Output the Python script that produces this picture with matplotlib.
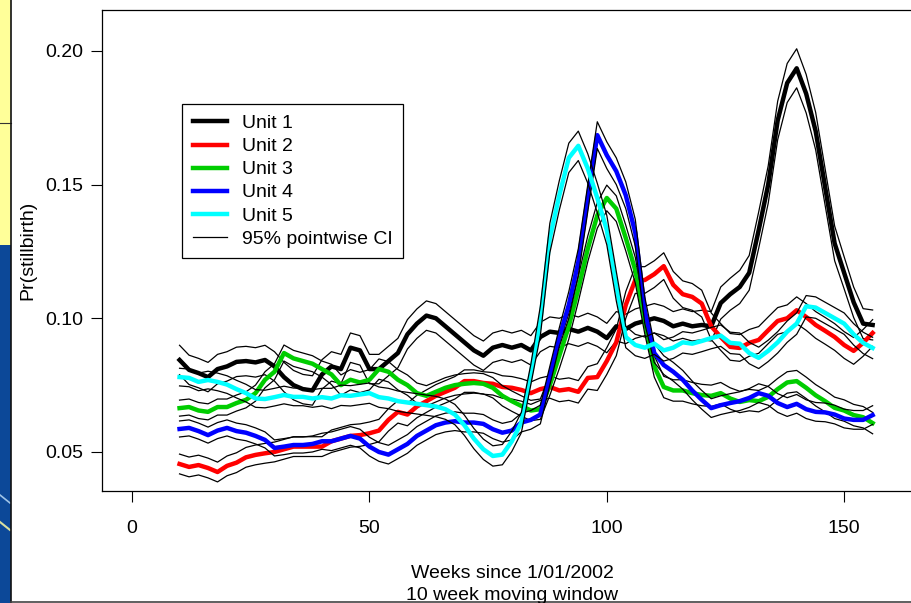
import matplotlib
matplotlib.use("Agg")
import matplotlib.pyplot as plt
from matplotlib.patches import Rectangle
from matplotlib.lines import Line2D

plt.rcParams['font.family'] = ['Liberation Sans', 'DejaVu Sans']

weeks = list(range(10, 157, 2))

unit1 = [0.0844, 0.0807, 0.0795, 0.0780, 0.0810, 0.0820, 0.0837, 0.0840, 0.0835, 0.0844,
         0.0820, 0.0780, 0.0750, 0.0735, 0.0730, 0.0790, 0.0820, 0.0810, 0.0890, 0.0880,
         0.0810, 0.0810, 0.0840, 0.0870, 0.0940, 0.0980, 0.1010, 0.1000, 0.0970, 0.0940,
         0.0910, 0.0880, 0.0860, 0.0890, 0.0900, 0.0890, 0.0900, 0.0880, 0.0930, 0.0950,
         0.0945, 0.0960, 0.0950, 0.0964, 0.0950, 0.0926, 0.0970, 0.0960, 0.0980, 0.0990,
         0.1000, 0.0990, 0.0970, 0.0980, 0.0970, 0.0975, 0.0970, 0.1057, 0.1090, 0.1117,
         0.1170, 0.1330, 0.1500, 0.1740, 0.1880, 0.1935, 0.1840, 0.1700, 0.1490, 0.1280,
         0.1170, 0.1060, 0.0980, 0.0975]
unit2 = [0.0455, 0.0444, 0.0451, 0.0440, 0.0425, 0.0448, 0.0460, 0.0480, 0.0489, 0.0495,
         0.0500, 0.0510, 0.0520, 0.0520, 0.0520, 0.0520, 0.0540, 0.0550, 0.0560, 0.0563,
         0.0570, 0.0580, 0.0620, 0.0650, 0.0640, 0.0670, 0.0690, 0.0710, 0.0725, 0.0740,
         0.0765, 0.0765, 0.0758, 0.0755, 0.0743, 0.0740, 0.0732, 0.0720, 0.0735, 0.0743,
         0.0730, 0.0735, 0.0725, 0.0777, 0.0780, 0.0840, 0.0910, 0.1050, 0.1143, 0.1143,
         0.1165, 0.1195, 0.1125, 0.1090, 0.1080, 0.1055, 0.0970, 0.0930, 0.0893, 0.0889,
         0.0908, 0.0919, 0.0955, 0.0990, 0.1000, 0.1030, 0.1005, 0.0975, 0.0953, 0.0930,
         0.0900, 0.0878, 0.0908, 0.0945]
unit3 = [0.0664, 0.0668, 0.0655, 0.0650, 0.0668, 0.0668, 0.0683, 0.0695, 0.0720, 0.0770,
         0.0800, 0.0870, 0.0850, 0.0840, 0.0830, 0.0810, 0.0790, 0.0750, 0.0770, 0.0760,
         0.0770, 0.0810, 0.0800, 0.0770, 0.0750, 0.0720, 0.0710, 0.0725, 0.0740, 0.0750,
         0.0755, 0.0758, 0.0755, 0.0740, 0.0710, 0.0690, 0.0672, 0.0655, 0.0660, 0.0750,
         0.0860, 0.0970, 0.1110, 0.1260, 0.1385, 0.1450, 0.1410, 0.1300, 0.1180, 0.0990,
         0.0820, 0.0743, 0.0730, 0.0730, 0.0720, 0.0713, 0.0710, 0.0720, 0.0700, 0.0687,
         0.0694, 0.0690, 0.0706, 0.0735, 0.0760, 0.0765, 0.0740, 0.0712, 0.0690, 0.0665,
         0.0655, 0.0638, 0.0630, 0.0608]
unit4 = [0.0586, 0.0590, 0.0578, 0.0563, 0.0580, 0.0590, 0.0578, 0.0572, 0.0560, 0.0545,
         0.0515, 0.0520, 0.0526, 0.0526, 0.0530, 0.0540, 0.0540, 0.0550, 0.0560, 0.0550,
         0.0520, 0.0500, 0.0490, 0.0510, 0.0530, 0.0560, 0.0580, 0.0600, 0.0610, 0.0615,
         0.0610, 0.0610, 0.0605, 0.0585, 0.0572, 0.0580, 0.0610, 0.0620, 0.0640, 0.0785,
         0.0930, 0.1050, 0.1210, 0.1450, 0.1685, 0.1610, 0.1550, 0.1460, 0.1320, 0.1030,
         0.0870, 0.0825, 0.0800, 0.0770, 0.0730, 0.0695, 0.0664, 0.0675, 0.0683, 0.0690,
         0.0702, 0.0720, 0.0710, 0.0683, 0.0668, 0.0680, 0.0660, 0.0650, 0.0648, 0.0640,
         0.0625, 0.0620, 0.0620, 0.0638]
unit5 = [0.0780, 0.0777, 0.0762, 0.0769, 0.0762, 0.0752, 0.0735, 0.0720, 0.0700, 0.0698,
         0.0705, 0.0713, 0.0706, 0.0706, 0.0700, 0.0705, 0.0700, 0.0712, 0.0710, 0.0715,
         0.0720, 0.0705, 0.0700, 0.0690, 0.0685, 0.0680, 0.0675, 0.0670, 0.0660, 0.0640,
         0.0600, 0.0550, 0.0510, 0.0485, 0.0490, 0.0540, 0.0610, 0.0790, 0.0990, 0.1300,
         0.1460, 0.1600, 0.1645, 0.1560, 0.1450, 0.1330, 0.1120, 0.0930, 0.0900, 0.0890,
         0.0905, 0.0880, 0.0890, 0.0910, 0.0905, 0.0915, 0.0926, 0.0935, 0.0908, 0.0905,
         0.0870, 0.0852, 0.0878, 0.0910, 0.0950, 0.0980, 0.1045, 0.1040, 0.1020, 0.1000,
         0.0980, 0.0940, 0.0908, 0.0889]

# 95% pointwise CI half-widths
ci1 = [0.0055] * 57 + [0.0060, 0.0060, 0.0062, 0.0065, 0.0068, 0.0070, 0.0072, 0.0073,
                       0.0073, 0.0072, 0.0070, 0.0068, 0.0065, 0.0060, 0.0057, 0.0056, 0.0056]
ci2 = [0.0037] * 16 + [0.0042] * 28 + [0.0050] * 14 + [0.0050] * 16
ci3 = [0.0030] * 16 + [0.0038] * 24 + [0.0048] * 10 + [0.0040] * 24
ci4 = [0.0030] * 16 + [0.0035] * 25 + [0.0050] * 9 + [0.0035] * 24
ci5 = [0.0033] * 16 + [0.0038] * 22 + [0.0055] * 9 + [0.0040] * 27

units = [unit1, unit2, unit3, unit4, unit5]
cis = [ci1, ci2, ci3, ci4, ci5]
labels = ["Unit 1", "Unit 2", "Unit 3", "Unit 4", "Unit 5"]
colors = ["#000000", "#FF0000", "#00CD00", "#0000FF", "#00FFFF"]
xticks = [0, 50, 100, 150]
yticks = [0.05, 0.10, 0.15, 0.20]

FS = 14
W, H = 912, 603
fig = plt.figure(figsize=(W / 100, H / 100), dpi=100)
fig.patch.set_facecolor("white")

# slide remnants on the left edge
fig.patches.append(Rectangle((0, 1 - 245 / H), 11 / W, 245 / H, transform=fig.transFigure,
                             facecolor="#FFFF99", edgecolor="none", zorder=0))
fig.patches.append(Rectangle((0, 0), 11 / W, 1 - 245 / H, transform=fig.transFigure,
                             facecolor="#0C4898", edgecolor="none", zorder=0))
fig.lines.append(Line2D([0, 11 / W], [1 - 123 / H, 1 - 123 / H], transform=fig.transFigure,
                        color="#333333", lw=0.8))
fig.lines.append(Line2D([0, 10 / W], [1 - 495 / H, 1 - 503 / H], transform=fig.transFigure,
                        color="#9FC4E8", lw=1.2))
fig.lines.append(Line2D([0, 10 / W], [1 - 522 / H, 1 - 530 / H], transform=fig.transFigure,
                        color="#D8E0A0", lw=1.5))
fig.lines.append(Line2D([11.5 / W, 11.5 / W], [0, 1], transform=fig.transFigure,
                        color="#111111", lw=1.2))
fig.lines.append(Line2D([11.5 / W, 1], [1.5 / H, 1.5 / H], transform=fig.transFigure,
                        color="#444444", lw=1.2))

ax = fig.add_axes([101.7 / W, (H - 491) / H, (922 - 101.7) / W, (491 - 10) / H])
for vals, ci, col, lab in zip(units, cis, colors, labels):
    lo = [v - c for v, c in zip(vals, ci)]
    hi = [v + c for v, c in zip(vals, ci)]
    ax.plot(weeks, vals, color=col, lw=3.2, label=lab, solid_joinstyle="round")
    ax.plot(weeks, lo, color="black", lw=0.9)
    ax.plot(weeks, hi, color="black", lw=0.9)

ax.set_xlim(-6.4, 166.4)
ax.set_ylim(0.0354, 0.2153)
ax.set_xticks(xticks)
ax.set_xticklabels([str(t) for t in xticks])
ax.set_yticks(yticks)
ax.set_yticklabels([f"{t:.2f}" for t in yticks])
ax.tick_params(axis="both", direction="out", length=8, width=0.8, labelsize=FS, colors="black")
ax.tick_params(axis="x", pad=13)
ax.tick_params(axis="y", pad=5)
for s in ax.spines.values():
    s.set_linewidth(0.9)
    s.set_color("black")

fig.text(28 / W, 1 - 250 / H, "Pr(stillbirth)", rotation=90, ha="center", va="center", fontsize=FS)
fig.text(512 / W, 1 - 578 / H, "Weeks since 1/01/2002", ha="center", va="baseline", fontsize=FS)
fig.text(512 / W, 1 - 600 / H, "10 week moving window", ha="center", va="baseline", fontsize=FS)

handles = [Line2D([], [], color=c, lw=3.2) for c in colors] + [Line2D([], [], color="black", lw=0.9)]
leg = ax.legend(handles, labels + ["95% pointwise CI"], loc="upper left",
                bbox_to_anchor=(182 / W, 1 - 104 / H), bbox_transform=fig.transFigure,
                fontsize=FS, frameon=True, fancybox=False, shadow=False, borderaxespad=0,
                handlelength=1.75, handletextpad=0.77, borderpad=0.55, labelspacing=0.28)
leg.get_frame().set_edgecolor("black")
leg.get_frame().set_linewidth(0.9)
leg.get_frame().set_alpha(1)

fig.savefig("out.png", dpi=100)
